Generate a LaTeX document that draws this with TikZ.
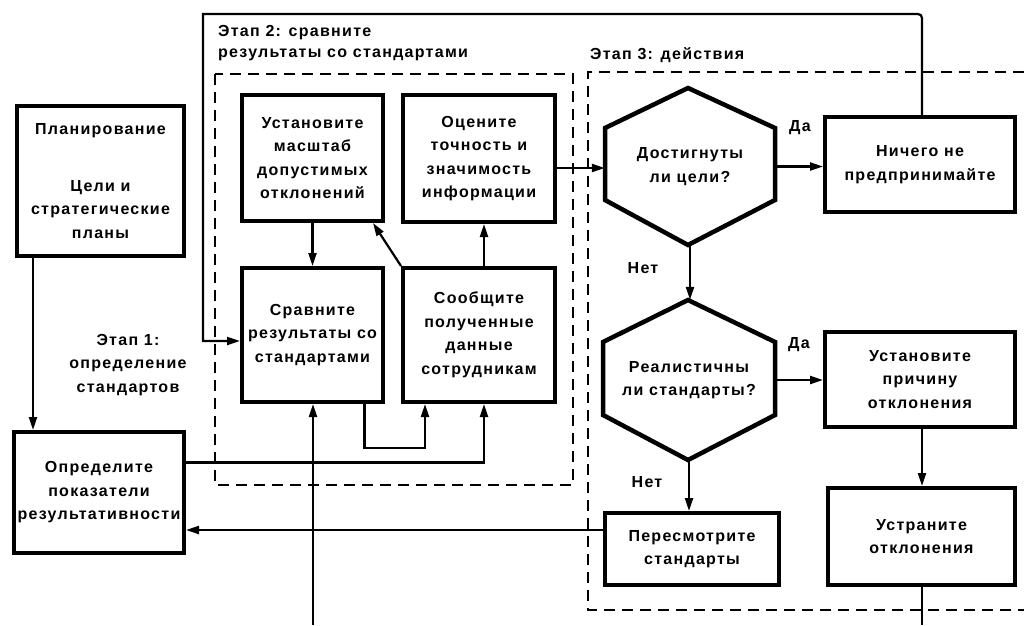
\documentclass[tikz,border=0pt]{standalone}
\usepackage{fontspec}
\setmainfont{Liberation Sans}[LetterSpace=8]
\usetikzlibrary{arrows.meta}
\begin{document}
\begin{tikzpicture}[x=1pt,y=-1pt,
  every node/.style={font=\bfseries\fontsize{16}{23.5}\selectfont},
  box/.style={draw,line width=4pt,inner sep=0pt,align=center},
  hexnode/.style={inner sep=0pt,align=center},
  hexline/.style={line width=4.5pt,line join=miter},
  conn/.style={line width=2.2pt},
  arr/.style={conn,-{Triangle[length=13pt,width=8pt]}},
  stagebox/.style={line width=2.5pt,dash pattern=on 11pt off 7pt},
  lbl/.style={inner sep=0pt}]
\useasboundingbox (0,0) rectangle (1024,625);

% stage frames
\draw[stagebox] (215,74) rectangle (573,485);
\draw[stagebox] (1024,72) -- (588,72) -- (588,610) -- (1024,610);

% stage labels
\node[lbl,anchor=west] (st2a) at (218,33) {Этап 2: сравните};
\node[lbl,anchor=west] (st2b) at (218,55) {результаты со стандартами};
\node[lbl,anchor=west] (st3) at (590,55) {Этап 3: действия};
\node[lbl,align=center] (st1) at (128,365) {Этап 1:\\определение\\стандартов};

% boxes
\node[box,minimum width=167pt,minimum height=150pt] (plan) at (100.5,181)
  {Планирование\\[33pt]Цели и\\стратегические\\планы};
\node[box,minimum width=170pt,minimum height=121pt] (define) at (99,492.5)
  {Определите\\показатели\\результативности};
\node[box,minimum width=141pt,minimum height=126pt] (scale) at (312.5,158)
  {Установите\\масштаб\\допустимых\\отклонений};
\node[box,minimum width=152pt,minimum height=127pt] (eval) at (479,158.5)
  {Оцените\\точность и\\значимость\\информации};
\node[box,minimum width=141pt,minimum height=134pt] (compare) at (312.5,335)
  {Сравните\\результаты со\\стандартами};
\node[box,minimum width=152pt,minimum height=134pt] (report) at (479,335)
  {Сообщите\\полученные\\данные\\сотрудникам};
\node[box,minimum width=190pt,minimum height=95pt] (nothing) at (920,164.5)
  {Ничего не\\предпринимайте};
\node[box,minimum width=190pt,minimum height=95pt] (cause) at (920,379.5)
  {Установите\\причину\\отклонения};
\node[box,minimum width=187pt,minimum height=97pt] (fix) at (921.5,536.5)
  {Устраните\\отклонения};
\node[box,minimum width=174pt,minimum height=72pt] (revise) at (692,549)
  {Пересмотрите\\стандарты};

% decision hexagons
\node[hexnode,minimum width=170pt,minimum height=157pt] (hex1) at (690,166.5)
  {Достигнуты\\ли цели?};
\draw[hexline] (688,88) -- (775,128) -- (775,200) -- (688,245) -- (605,200) -- (605,128) -- cycle;
\node[hexnode,minimum width=172pt,minimum height=160pt] (hex2) at (689,380)
  {Реалистичны\\ли стандарты?};
\draw[hexline] (688,300) -- (775,342) -- (775,415) -- (688,460) -- (603,415) -- (603,342) -- cycle;

% branch labels
\node[lbl] (yes1) at (800,128) {Да};
\node[lbl] (no1) at (643,268) {Нет};
\node[lbl] (yes2) at (799,345) {Да};
\node[lbl] (no2) at (647,482) {Нет};

% free ends and bends
\coordinate (fbR) at (922,14);
\coordinate (fbL) at (203,14);
\coordinate (fbD) at (203,341);
\coordinate (inB) at (313,625);
\coordinate (outB) at (922,625);

% connectors
\draw[arr] ([xshift=18pt]plan.south west) -- ([xshift=21pt]define.north west);
\draw[arr] (scale.south) -- (compare.north);
\draw[arr] (report.north west) -- ([xshift=-12pt]scale.south east);
\draw[arr] ([xshift=5pt]report.north) -- ([xshift=5pt]eval.south);
\draw[arr] ([yshift=-9.5pt]eval.east) -- ([yshift=-9.5pt]eval.east -| hex1.west);
\draw[arr] (hex1.east) -- (hex1.east -| nothing.west);
\draw[arr] (hex1.south) -- (hex1.south |- hex2.north);
\draw[arr] (hex2.east) -- (hex2.east -| cause.west);
\draw[arr] (hex2.south) -- (hex2.south |- revise.north);
\draw[arr] ([xshift=2pt]cause.south) -- ([xshift=0.5pt]fix.north);
\draw[conn] ([xshift=0.5pt]fix.south) -- (outB);
\draw[arr] ([yshift=19pt]revise.west) -- ([yshift=19pt]revise.west -| define.east);
\draw[arr] ([yshift=30pt]define.east) -| ([xshift=5pt]report.south);
\draw[arr] ([xshift=52pt]compare.south) -- ++(0,44) -| ([xshift=-54pt]report.south);
\draw[arr] (inB) -- (inB |- compare.south);
% feedback loop, rounded only at the upper right bend
\draw[arr] ([xshift=2pt]nothing.north) [rounded corners=4pt] -- (fbR) [sharp corners] -- (fbL) -- (fbD) -- (fbD -| compare.west);
\end{tikzpicture}
\end{document}
